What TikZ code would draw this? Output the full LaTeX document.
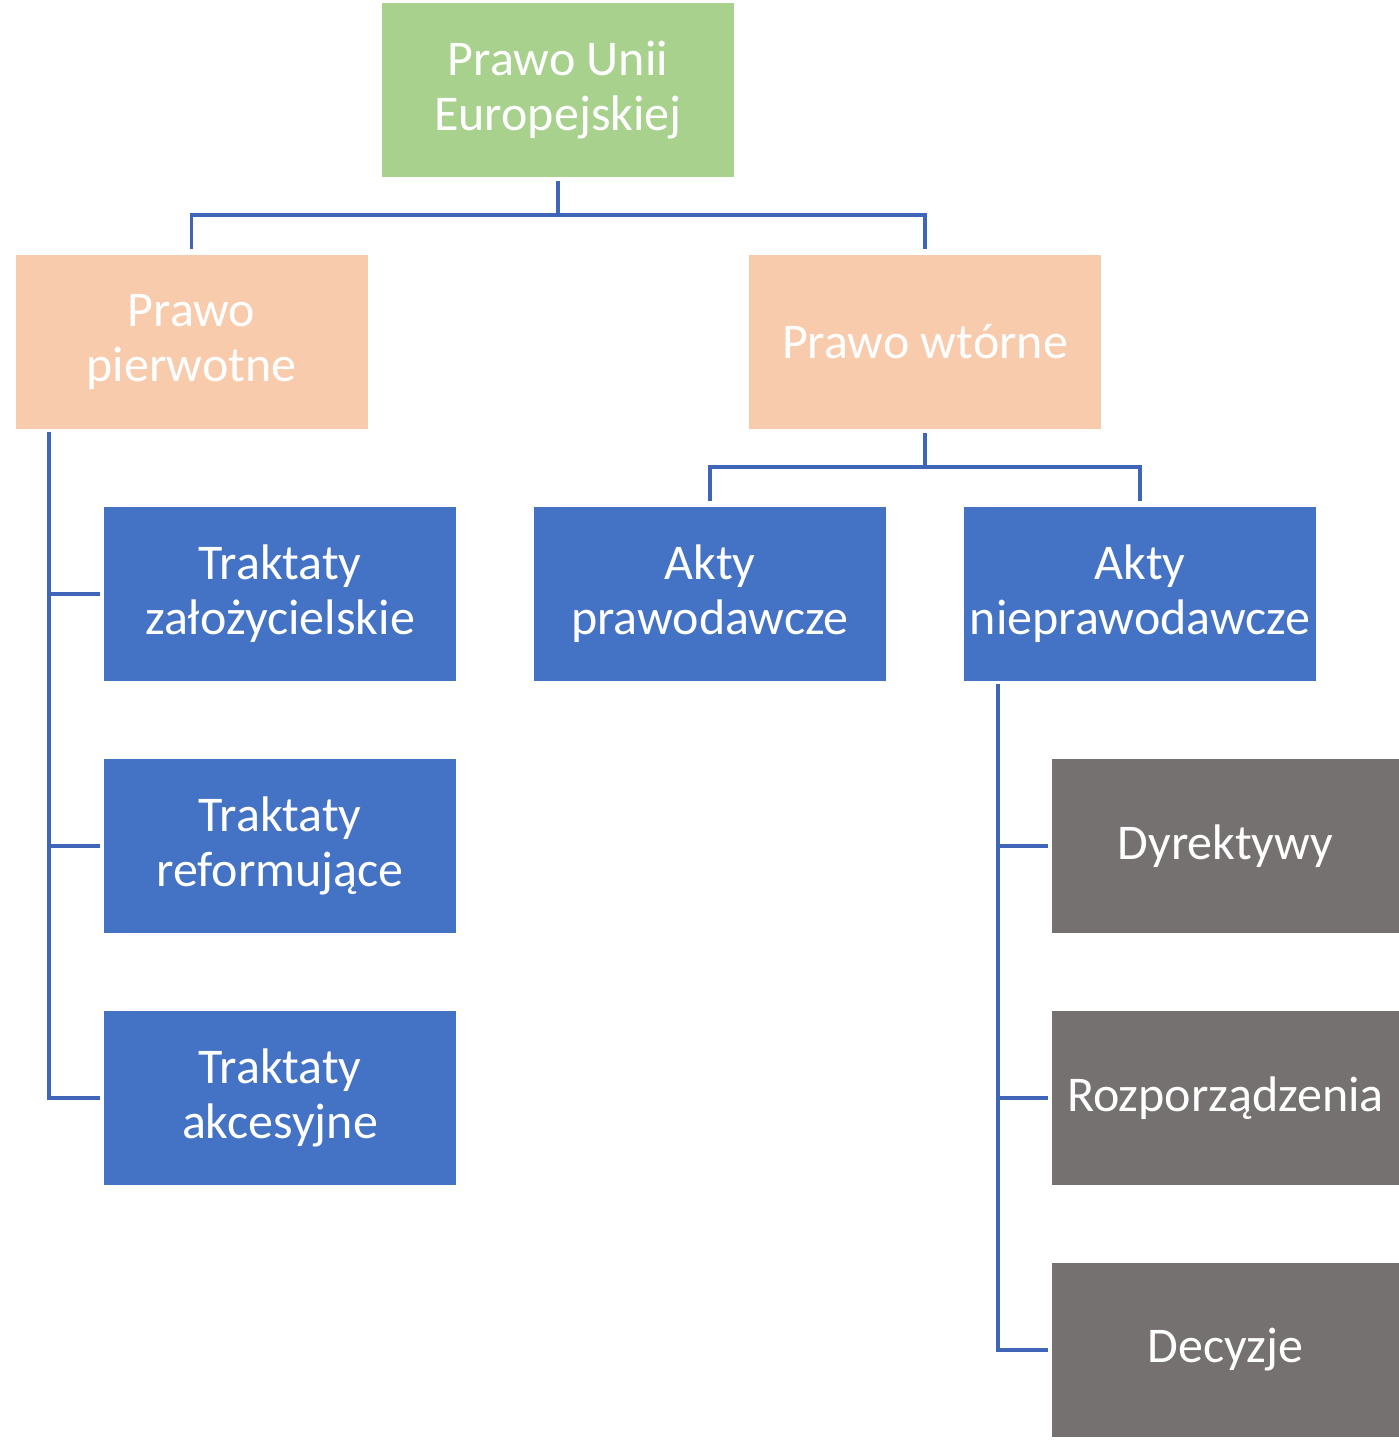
\documentclass[tikz,border=0pt]{standalone}
\usepackage{fontspec}
\setmainfont{Carlito}
\definecolor{cgreen}{HTML}{A9D18E}
\definecolor{cpeach}{HTML}{F8CBAD}
\definecolor{cblue}{HTML}{4472C4}
\definecolor{cgray}{HTML}{767171}
\definecolor{cline}{HTML}{3F65B8}
\begin{document}
\begin{tikzpicture}[x=0.75pt,y=-0.75pt,
  box/.style={rectangle,inner sep=0pt,minimum width=264pt,minimum height=130.5pt,
    text=white,align=center,font=\fontsize{37.5}{41.3}\selectfont},
  gbox/.style={box,fill=cgreen},
  pbox/.style={box,fill=cpeach},
  bbox/.style={box,fill=cblue},
  kbox/.style={box,fill=cgray,minimum width=260.25pt},
  conn/.style={draw=cline,line width=2.4pt}
]
\useasboundingbox (0,0) rectangle (1399,1440);
\node[gbox] (top) at (558,90) {Prawo Unii\\Europejskiej};
\node[pbox] (pp) at (191.5,342) {Prawo\\pierwotne};
\node[pbox] (pw) at (925,342) {Prawo wtórne};
\node[bbox] (tz) at (280,594) {Traktaty\\założycielskie};
\node[bbox] (tr) at (280,846) {Traktaty\\reformujące};
\node[bbox] (ta) at (280,1098) {Traktaty\\akcesyjne};
\node[bbox] (ap) at (710,594) {Akty\\prawodawcze};
\node[bbox] (an) at (1140,594) {Akty\\nieprawodawcze};
\node[kbox] (dy) at (1225.5,846) {Dyrektywy};
\node[kbox] (ro) at (1225.5,1098) {Rozporządzenia};
\node[kbox] (de) at (1225.5,1350) {Decyzje};
% top level
\coordinate (j1) at (558,215);
\draw[conn,shorten <=3pt] (top.south) -- (j1);
\draw[conn,shorten >=4pt] (j1) -| (pp.north);
\draw[conn,shorten >=4pt] (j1) -| (pw.north);
% secondary law
\coordinate (j2) at (925,467);
\draw[conn,shorten <=3pt] (pw.south) -- (j2);
\draw[conn,shorten >=4pt] (j2) -| (ap.north);
\draw[conn,shorten >=4pt] (j2) -| (an.north);
% primary law trunk
\coordinate (lt) at (49,432);
\draw[conn,shorten >=3pt] (lt) |- (tz.west);
\draw[conn,shorten >=3pt] (lt) |- (tr.west);
\draw[conn,shorten >=3pt] (lt) |- (ta.west);
% non-legislative trunk
\coordinate (rt) at (998,684);
\draw[conn,shorten >=3pt] (rt) |- (dy.west);
\draw[conn,shorten >=3pt] (rt) |- (ro.west);
\draw[conn,shorten >=3pt] (rt) |- (de.west);
\end{tikzpicture}
\end{document}
